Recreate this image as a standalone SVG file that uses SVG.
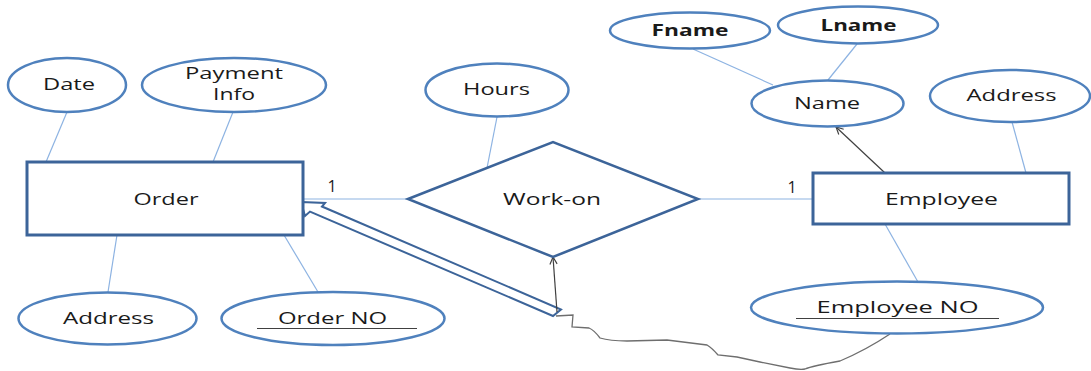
<svg xmlns="http://www.w3.org/2000/svg" width="1091" height="371" viewBox="0 0 1091 371">
<defs>
<style>
.attr{fill:#fff;stroke:#4f81bd;stroke-width:2.5}
.ent{fill:#fff;stroke:#3c6499;stroke-width:3}
.rel{fill:#fff;stroke:#3c6499;stroke-width:2.5}
.ln{stroke:#8db3e2;stroke-width:1.2;fill:none}
.t{font-family:"Open Sans","Liberation Sans",sans-serif;font-size:16px;fill:#1a1a1a;text-anchor:middle}
.b{font-weight:bold}
.ul{stroke:#404040;stroke-width:1.2}
.thin{stroke:#404040;stroke-width:1.2;fill:none}
</style>
<marker id="open" viewBox="0 0 10 10" refX="9" refY="5" markerWidth="9" markerHeight="9" markerUnits="userSpaceOnUse" orient="auto">
<path d="M1,1 L9,5 L1,9" fill="none" stroke="#404040" stroke-width="1.3"/>
</marker>
</defs>
<rect width="1091" height="371" fill="#fff"/>
<g id="connectors">
<line class="ln" x1="67" y1="112" x2="46" y2="162"/>
<line class="ln" x1="233" y1="112" x2="213" y2="162"/>
<line class="ln" x1="117" y1="235" x2="108" y2="292"/>
<line class="ln" x1="284" y1="235" x2="318" y2="292"/>
<line class="ln" x1="497" y1="117" x2="487" y2="168"/>
<line class="ln" x1="303" y1="199" x2="408" y2="199"/>
<line class="ln" x1="698" y1="199" x2="813" y2="199"/>
<line class="ln" x1="693" y1="49" x2="773" y2="85"/>
<line class="ln" x1="857" y1="44" x2="828" y2="80"/>
<line class="ln" x1="1012" y1="122" x2="1026" y2="173"/>
<line class="ln" x1="885" y1="224" x2="918" y2="282"/>
<line class="thin" x1="885" y1="173" x2="836" y2="127" marker-end="url(#open)"/>
<polygon points="301,202 325,203 322,206.5 561,309.5 553,316 310,211.6 305,216" fill="#fff" stroke="#3c6499" stroke-width="2"/>
<line class="thin" x1="557" y1="312" x2="553" y2="257" marker-end="url(#open)"/>
<path d="M556,316 L573,315 L572,327 L589,328 Q594,330 600,338 Q610,341 627,341 L667,340 L707,345 Q712,348 718,355 L737,357 L760,362 L790,368 Q800,370 805,369 Q812,366 840,361 Q866,350 890,334" fill="none" stroke="#6e6e6e" stroke-width="1.3"/>
<text class="t" x="332" y="192">1</text>
<text class="t" x="792" y="192.5">1</text>
</g>
<g id="date"><ellipse class="attr" cx="67" cy="85" rx="59" ry="27"/><text class="t" x="69" y="90" textLength="52" lengthAdjust="spacingAndGlyphs">Date</text></g>
<g id="payment"><ellipse class="attr" cx="234" cy="85" rx="92" ry="27"/><text class="t" x="234" y="79" textLength="98" lengthAdjust="spacingAndGlyphs">Payment</text><text class="t" x="234" y="100" textLength="42" lengthAdjust="spacingAndGlyphs">Info</text></g>
<g id="order"><rect class="ent" x="27" y="162" width="276" height="73"/><text class="t" x="166" y="205" textLength="65" lengthAdjust="spacingAndGlyphs">Order</text></g>
<g id="address-order"><ellipse class="attr" cx="107.5" cy="318.5" rx="89" ry="26"/><text class="t" x="108.5" y="324" textLength="91" lengthAdjust="spacingAndGlyphs">Address</text></g>
<g id="orderno"><ellipse class="attr" cx="333" cy="318.5" rx="111.5" ry="26.5"/><text class="t" x="332.5" y="324" textLength="109" lengthAdjust="spacingAndGlyphs">Order NO</text><line class="ul" x1="257" y1="328.5" x2="417" y2="328.5"/></g>
<g id="hours"><ellipse class="attr" cx="497" cy="90" rx="71.5" ry="26.5"/><text class="t" x="496.5" y="95" textLength="67" lengthAdjust="spacingAndGlyphs">Hours</text></g>
<g id="workon"><polygon class="rel" points="408,199 553,142 698,199 553,257"/><text class="t" x="552" y="205" textLength="98" lengthAdjust="spacingAndGlyphs">Work-on</text></g>
<g id="fname"><ellipse class="attr" cx="690" cy="30.5" rx="80" ry="18"/><text class="t b" x="690" y="35.5" textLength="77" lengthAdjust="spacingAndGlyphs">Fname</text></g>
<g id="lname"><ellipse class="attr" cx="858" cy="25" rx="80" ry="18.5"/><text class="t b" x="858.5" y="30.5" textLength="76" lengthAdjust="spacingAndGlyphs">Lname</text></g>
<g id="name"><ellipse class="attr" cx="827.5" cy="103.5" rx="76" ry="23"/><text class="t" x="827" y="108.5" textLength="66" lengthAdjust="spacingAndGlyphs">Name</text></g>
<g id="address-employee"><ellipse class="attr" cx="1010" cy="96" rx="80" ry="26"/><text class="t" x="1011.5" y="100.5" textLength="90" lengthAdjust="spacingAndGlyphs">Address</text></g>
<g id="employee"><rect class="ent" x="813" y="173" width="256" height="51"/><text class="t" x="941.5" y="204.5" textLength="113" lengthAdjust="spacingAndGlyphs">Employee</text></g>
<g id="employeeno"><ellipse class="attr" cx="897" cy="307.5" rx="146" ry="26"/><text class="t" x="897.5" y="313" textLength="162" lengthAdjust="spacingAndGlyphs">Employee NO</text><line class="ul" x1="796" y1="318.5" x2="999" y2="318.5"/></g>
</svg>
